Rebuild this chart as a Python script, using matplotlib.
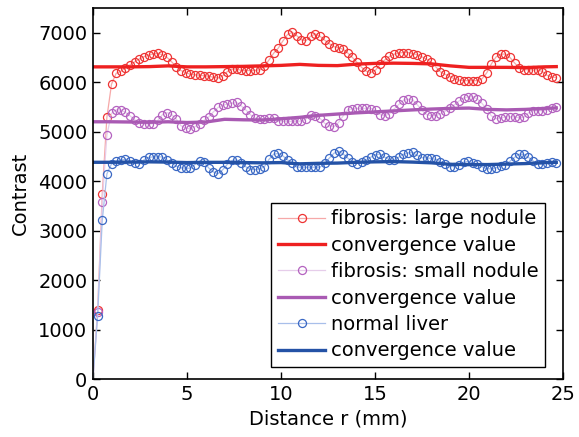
import numpy as np
import matplotlib
matplotlib.use("Agg")
import matplotlib.pyplot as plt

# sampling grid along r (mm)
r = np.linspace(0, 24.64, 101)

large_nodule = [
    0, 1400, 3740, 5290, 5960, 6180, 6220, 6290, 6350, 6410,
    6470, 6515, 6545, 6575, 6585, 6555, 6500, 6410, 6310, 6235,
    6195, 6160, 6150, 6140, 6130, 6120, 6100, 6083, 6130, 6215,
    6264, 6264, 6240, 6235, 6235, 6240, 6250, 6320, 6450, 6585,
    6690, 6835, 6965, 7010, 6940, 6855, 6840, 6930, 6975, 6930,
    6850, 6780, 6718, 6700, 6665, 6590, 6500, 6400, 6300, 6220,
    6196, 6245, 6365, 6450, 6520, 6565, 6590, 6600, 6600, 6580,
    6555, 6512, 6465, 6400, 6310, 6210, 6160, 6115, 6070, 6040,
    6033, 6030, 6030, 6033, 6070, 6190, 6370, 6510, 6565, 6570,
    6500, 6390, 6290, 6255, 6250, 6250, 6250, 6215, 6140, 6105,
    6095]

small_nodule = [
    0, 1350, 3575, 4933, 5370, 5440, 5440, 5390, 5320, 5240,
    5180, 5155, 5155, 5160, 5230, 5345, 5385, 5345, 5250, 5120,
    5075, 5055, 5100, 5160, 5230, 5300, 5400, 5490, 5535, 5560,
    5575, 5590, 5520, 5440, 5340, 5275, 5262, 5262, 5268, 5270,
    5215, 5208, 5208, 5208, 5208, 5215, 5260, 5340, 5320, 5270,
    5170, 5120, 5100, 5185, 5320, 5440, 5465, 5470, 5470, 5470,
    5468, 5430, 5345, 5323, 5360, 5460, 5550, 5635, 5655, 5645,
    5545, 5430, 5345, 5323, 5325, 5360, 5410, 5480, 5540, 5620,
    5680, 5706, 5706, 5660, 5570, 5450, 5320, 5262, 5275, 5300,
    5300, 5300, 5280, 5290, 5380, 5420, 5423, 5423, 5435, 5475,
    5504]

normal_liver = [
    0, 1276, 3206, 4147, 4348, 4410, 4425, 4445, 4415, 4365,
    4350, 4430, 4480, 4490, 4490, 4490, 4425, 4370, 4300, 4270,
    4261, 4261, 4335, 4405, 4380, 4265, 4185, 4150, 4230, 4340,
    4418, 4428, 4360, 4290, 4235, 4232, 4248, 4290, 4440, 4545,
    4560, 4510, 4430, 4360, 4285, 4281, 4281, 4281, 4281, 4281,
    4360, 4465, 4563, 4603, 4550, 4465, 4390, 4355, 4390, 4430,
    4485, 4536, 4549, 4482, 4430, 4428, 4485, 4540, 4570, 4580,
    4520, 4475, 4469, 4460, 4440, 4395, 4348, 4295, 4294, 4330,
    4380, 4400, 4375, 4340, 4290, 4250, 4248, 4270, 4300, 4330,
    4400, 4480, 4545, 4540, 4480, 4410, 4345, 4340, 4360, 4380,
    4365]

# convergence values, read at coarser steps
conv_r = [0, 1, 2, 3, 4, 5, 6, 7, 8, 9, 10, 11, 12, 13, 14, 15, 16,
          17, 18, 19, 20, 21, 22, 23, 24, 24.64]
conv_large = [6310, 6310, 6310, 6315, 6330, 6310, 6310, 6315, 6320, 6330,
              6340, 6360, 6340, 6335, 6365, 6380, 6385, 6380, 6370, 6330,
              6300, 6300, 6300, 6295, 6310, 6315]
conv_small = [5200, 5200, 5195, 5190, 5200, 5185, 5195, 5250, 5240, 5235,
              5260, 5290, 5330, 5356, 5380, 5400, 5420, 5440, 5457, 5470,
              5477, 5450, 5440, 5450, 5470, 5480]
conv_normal = [4381, 4381, 4385, 4390, 4385, 4375, 4380, 4380, 4375, 4370,
               4375, 4350, 4360, 4365, 4380, 4390, 4395, 4385, 4370, 4340,
               4335, 4335, 4345, 4355, 4375, 4380]

plt.rcParams['font.family'] = 'DejaVu Sans'
fs = 14

fig = plt.figure(figsize=(5.79, 4.37), dpi=100)
ax = fig.add_axes([0.1606, 0.1327, 0.8118, 0.849])

ms = 5.8
mk = slice(1, None)  # no marker drawn at the origin point
ax.plot(r, large_nodule, '-o', color='#f6a8a8', lw=0.9, ms=ms, mfc='none',
        mec='#ee3333', mew=0.9, markevery=mk, label='fibrosis: large nodule')
ax.plot(conv_r, conv_large, '-', color='#ee2020', lw=2.4, label='convergence value')
ax.plot(r, small_nodule, '-o', color='#e6cdea', lw=0.9, ms=ms, mfc='none',
        mec='#b462c0', mew=0.9, markevery=mk, label='fibrosis: small nodule')
ax.plot(conv_r, conv_small, '-', color='#a95ab3', lw=2.4, label='convergence value')
ax.plot(r, normal_liver, '-o', color='#a8bfea', lw=0.9, ms=ms, mfc='none',
        mec='#3a68c4', mew=0.9, markevery=mk, label='normal liver')
ax.plot(conv_r, conv_normal, '-', color='#2452a6', lw=2.4, label='convergence value')

ax.set_xlim(0, 25)
ax.set_ylim(0, 7500)
ax.set_xticks([0, 5, 10, 15, 20, 25])
ax.set_yticks(range(0, 7001, 1000))
ax.tick_params(direction='in', top=True, right=True, length=5, width=1,
               labelsize=fs, pad=4)
for s in ax.spines.values():
    s.set_linewidth(1.2)

ax.set_xlabel('Distance r (mm)', fontsize=fs, labelpad=4)
ax.set_ylabel('Contrast', fontsize=fs, labelpad=6)

leg = ax.legend(loc='lower right', bbox_to_anchor=(0.962, 0.032),
                borderaxespad=0, fontsize=fs, numpoints=1, fancybox=False,
                framealpha=1, edgecolor='black', handlelength=2.4,
                handletextpad=0.3, labelspacing=0.38, borderpad=0.35)
leg.get_frame().set_linewidth(1.0)

fig.savefig('out.png', dpi=100)
